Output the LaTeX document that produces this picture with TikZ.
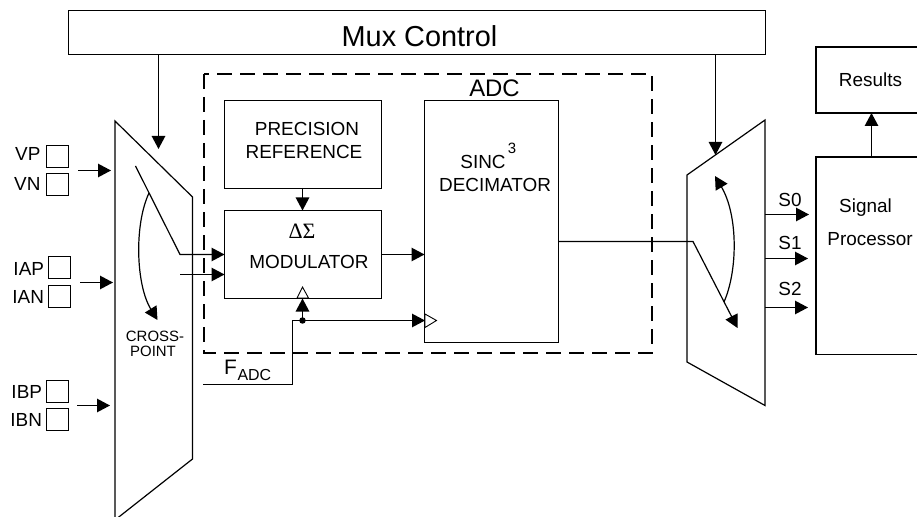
\documentclass[tikz,border=0pt]{standalone}
\usepackage{fontspec}
\setmainfont{Liberation Sans}
\newfontfamily\serifgr{Liberation Serif}
\usetikzlibrary{arrows.meta,calc}
\tikzset{
  boxs/.style={draw,rectangle,inner sep=0pt,outer sep=0pt},
  thickbox/.style={boxs,line width=1.5bp},
  sq/.style={boxs,minimum width=22bp,minimum height=22bp},
  arr/.style={-{Triangle[length=13bp,width=13.5bp]}},
  lab/.style={inner sep=0pt,outer sep=0pt,font=\fontsize{19}{19}\selectfont},
  small/.style={inner sep=0pt,outer sep=0pt,font=\fontsize{15}{15}\selectfont},
  opentri/.style={draw,fill=white,line width=0.9bp},
}
\begin{document}
\begin{tikzpicture}[x=1bp,y=-1bp,line width=1.2bp]
\useasboundingbox (0,0) rectangle (917,517);
\clip (0,0) rectangle (917,517);
% main blocks
\node[boxs,minimum width=697bp,minimum height=44bp] (mux) at (417,32.5) {};
\node[inner sep=0pt,font=\fontsize{29}{29}\selectfont] (muxt) at (419.5,36) {Mux Control};
\draw[dashed,dash pattern=on 15bp off 8bp,line width=2bp] (204,74) rectangle (652,353);
\node[inner sep=0pt,font=\fontsize{24}{24}\selectfont] (adct) at (494.5,88) {ADC};
\node[boxs,minimum width=157bp,minimum height=88bp] (prec) at (303,144.5) {};
\node[lab] (prect1) at (307,129) {PRECISION};
\node[lab] (prect2) at (304,152) {REFERENCE};
\node[boxs,minimum width=157bp,minimum height=88bp] (mod) at (303,254.5) {};
\node[inner sep=0pt,font=\serifgr\fontsize{22}{22}\selectfont] (dst) at (302,231) {ΔΣ};
\node[lab] (modt) at (309,262) {MODULATOR};
\node[boxs,minimum width=134bp,minimum height=242bp] (sinc) at (491.5,221.5) {};
\node[lab] (sinct) at (483,162) {SINC};
\node[small] (sinc3) at (512,148) {3};
\node[lab] (dect) at (495,185) {DECIMATOR};
\node[thickbox,minimum width=110bp,minimum height=66bp] (res) at (871,80) {};
\node[lab] (rest) at (870.5,80) {Results};
\node[thickbox,minimum width=110bp,minimum height=197.5bp] (sp) at (871,255.75) {};
\node[lab] (spt1) at (865.5,208) {Signal};
\node[lab] (spt2) at (870,239) {Processor};
% muxes
\draw (115,121) -- (192.5,197) -- (192.5,459) -- (115,520) -- cycle;
\draw (687,175) -- (765,120) -- (765,405.5) -- (687,362) -- cycle;
\node[small] (cp1) at (155,336) {CROSS-};
\node[small] (cp2) at (153,351) {POINT};
% input pads
\node[sq] (vp) at (57.5,156.5) {};
\node[sq] (vn) at (57.5,184.5) {};
\node[sq] (iap) at (59.5,267.5) {};
\node[sq] (ian) at (59.5,296.5) {};
\node[sq] (ibp) at (57.5,391.5) {};
\node[sq] (ibn) at (57.5,419.5) {};
\node[lab,anchor=east] (vpt) at (40.5,154) {VP};
\node[lab,anchor=east] (vnt) at (40.5,184) {VN};
\node[lab,anchor=east] (iapt) at (44,269) {IAP};
\node[lab,anchor=east] (iant) at (44,297) {IAN};
\node[lab,anchor=east] (ibpt) at (42,392) {IBP};
\node[lab,anchor=east] (ibnt) at (42,420) {IBN};
% input arrows
\coordinate (a1s) at (78,170.5); \coordinate (a1e) at (111,170.5);
\coordinate (a2s) at (80,282.5); \coordinate (a2e) at (113,282.5);
\coordinate (a3s) at (77,405.5); \coordinate (a3e) at (110,405.5);
\draw[arr] (a1s) -- (a1e);
\draw[arr] (a2s) -- (a2e);
\draw[arr] (a3s) -- (a3e);
% mux control arrows
\coordinate (c1) at (158.5,149); \coordinate (c2) at (715.5,155);
\draw[arr] (mux.south -| c1) -- (c1);
\draw[arr] (mux.south -| c2) -- (c2);
% crosspoint switch
\coordinate (sw0) at (135.5,166); \coordinate (sw1) at (180,254.5); \coordinate (sw2) at (180,274.5);
\draw[arr] (sw0) -- (sw1) -- (mod.west |- sw1);
\draw[arr] (sw2) -- (mod.west |- sw2);
\coordinate (cvs) at (149,193); \coordinate (cve) at (157.5,320);
\draw[arr] (cvs) .. controls (134,225) and (136,285) .. (cve);
% internal
\coordinate (pm) at (302.5,188);
\draw[arr] (pm) -- (mod.north -| pm);
\draw[arr] (mod.east) -- (sinc.west |- mod.east);
% output switch
\coordinate (k1) at (693,241.5); \coordinate (k2) at (737.5,328);
\draw[arr] (sinc.east |- k1) -- (k1) -- (k2);
\coordinate (ors) at (724,302); \coordinate (ore) at (715,176);
\draw[arr] (ors) .. controls (738,270) and (738,215) .. (ore);
% outputs
\coordinate (s0s) at (765,214.5); \coordinate (s1s) at (765,258.5); \coordinate (s2s) at (765,307.5);
\coordinate (s0e) at (809,214.5); \coordinate (s1e) at (808,258.5); \coordinate (s2e) at (808,307.5);
\draw[arr] (s0s) -- (s0e);
\draw[arr] (s1s) -- (s1e);
\draw[arr] (s2s) -- (s2e);
\node[lab] (s0t) at (790,200) {S0};
\node[lab] (s1t) at (790,243) {S1};
\node[lab] (s2t) at (790,289) {S2};
\coordinate (sr) at (871.5,157);
\draw[arr] (sp.north -| sr) -- (res.south -| sr);
% clock
\coordinate (f0) at (203,384.5); \coordinate (f1) at (292.5,384.5); \coordinate (f2) at (292.5,320.5);
\coordinate (dotc) at (302.5,320.5);
\coordinate (clke) at (425,320.5);
\draw[opentri] (297,298) -- (302.5,287) -- (308.5,298) -- cycle;
\draw[opentri] (425,314) -- (436.5,320.5) -- (425,327.5) -- cycle;
\draw[arr] (f0) -- (f1) -- (f2) -- (clke);
\draw[arr] (dotc) -- (dotc |- mod.south);
\node[circle,fill=black,inner sep=0pt,minimum size=6.5bp] (dot) at (dotc) {};
\node[inner sep=0pt,anchor=base west,font=\fontsize{21}{21}\selectfont] (fa) at (223.5,374) {F};
\node[inner sep=0pt,anchor=base west,font=\fontsize{16}{16}\selectfont] (fb) at (237,380) {ADC};
\end{tikzpicture}
\end{document}
